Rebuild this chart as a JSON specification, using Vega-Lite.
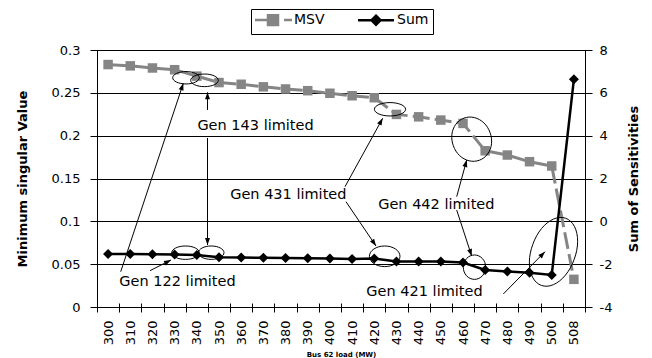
{
  "$schema": "https://vega.github.io/schema/vega-lite/v6.json",
  "width": 488,
  "height": 257,
  "autosize": {"type": "none"},
  "padding": {"left": 97, "top": 50, "right": 67, "bottom": 51},
  "background": "white",
  "config": {
    "view": {"stroke": null},
    "font": "DejaVu Sans",
    "axis": {"labelFont": "DejaVu Sans", "labelFontSize": 13, "labelColor": "#000", "titleFont": "DejaVu Sans", "titleFontSize": 13, "titleFontWeight": "bold", "titleColor": "#000", "domainColor": "#000", "tickColor": "#000", "gridColor": "#000", "domainWidth": 1, "tickWidth": 1, "gridWidth": 1, "gridOpacity": 1},
    "legend": {"strokeColor": "#000", "fillColor": "#fff", "padding": 4, "symbolSize": 16, "symbolStrokeWidth": 2.5, "symbolOpacity": 1, "labelFont": "DejaVu Sans", "labelFontSize": 14, "labelColor": "#000"}
  },
  "datasets": {
    "main": [
      {"load": 300, "msv": 0.283, "sum": -1.53},
      {"load": 310, "msv": 0.2815, "sum": -1.53},
      {"load": 320, "msv": 0.279, "sum": -1.54},
      {"load": 330, "msv": 0.277, "sum": -1.55},
      {"load": 340, "msv": 0.2695, "sum": -1.57},
      {"load": 350, "msv": 0.262, "sum": -1.68},
      {"load": 360, "msv": 0.26, "sum": -1.69},
      {"load": 370, "msv": 0.257, "sum": -1.7},
      {"load": 380, "msv": 0.2545, "sum": -1.71},
      {"load": 390, "msv": 0.2525, "sum": -1.72},
      {"load": 400, "msv": 0.2495, "sum": -1.73},
      {"load": 410, "msv": 0.2466, "sum": -1.76},
      {"load": 420, "msv": 0.2443, "sum": -1.74},
      {"load": 430, "msv": 0.2248, "sum": -1.88},
      {"load": 440, "msv": 0.222, "sum": -1.88},
      {"load": 450, "msv": 0.2182, "sum": -1.88},
      {"load": 460, "msv": 0.2143, "sum": -1.92},
      {"load": 470, "msv": 0.1824, "sum": -2.27},
      {"load": 480, "msv": 0.1774, "sum": -2.34},
      {"load": 490, "msv": 0.1696, "sum": -2.4},
      {"load": 500, "msv": 0.1646, "sum": -2.5},
      {"load": 508, "msv": 0.0323, "sum": 6.64}
    ],
    "ellipses": [
      {"id": "E1", "ax": 4.012, "ay": 0.2676},
      {"id": "E2", "ax": 4.846, "ay": 0.2646},
      {"id": "E3", "ax": 13.209, "ay": 0.2308},
      {"id": "E4", "ax": 16.892, "ay": 0.1959},
      {"id": "E5", "ax": 3.99, "ay": 0.0634},
      {"id": "E6", "ax": 5.148, "ay": 0.0634},
      {"id": "E7", "ax": 12.97, "ay": 0.0592},
      {"id": "E8", "ax": 17.018, "ay": 0.0465},
      {"id": "E9", "ax": 20.58, "ay": 0.0644}
    ],
    "arrows": [
      {"id": "A1", "sx": 1.068, "sy": 0.0412, "tx": 3.891, "ty": 0.2611},
      {"id": "A2", "sx": 4.982, "sy": 0.23, "tx": 4.982, "ty": 0.2506},
      {"id": "A3", "sx": 4.982, "sy": 0.1973, "tx": 4.982, "ty": 0.0724},
      {"id": "A4", "sx": 2.389, "sy": 0.0424, "tx": 3.336, "ty": 0.0549},
      {"id": "A5", "sx": 11.18, "sy": 0.1404, "tx": 12.88, "ty": 0.2203},
      {"id": "A6", "sx": 11.225, "sy": 0.1229, "tx": 12.578, "ty": 0.0712},
      {"id": "A7", "sx": 16.216, "sy": 0.1288, "tx": 16.667, "ty": 0.1716},
      {"id": "A8", "sx": 16.216, "sy": 0.1132, "tx": 16.892, "ty": 0.0595},
      {"id": "A9", "sx": 18.317, "sy": 0.0152, "tx": 20.197, "ty": 0.0646}
    ],
    "labels": [
      {"text": "Gen 143 limited", "ax": 7.146, "ay": 0.2116},
      {"text": "Gen 431 limited", "ax": 8.625, "ay": 0.1307},
      {"text": "Gen 442 limited", "ax": 15.297, "ay": 0.1191},
      {"text": "Gen 122 limited", "ax": 3.629, "ay": 0.0295},
      {"text": "Gen 421 limited", "ax": 14.764, "ay": 0.0179}
    ]
  },
  "data": {"name": "main"},
  "layer": [
    {
      "mark": {"type": "line", "color": "#858585", "strokeWidth": 3, "strokeDash": [17, 5.18], "strokeDashOffset": 19.6},
      "encoding": {
        "x": {"field": "load", "type": "ordinal", "scale": {"type": "point", "padding": 0.5},
          "axis": {"orient": "bottom", "title": "Bus 62 load (MW)", "labelAngle": 270, "labelAlign": "right", "labelBaseline": "middle", "ticks": false, "tickSize": 0, "labelPadding": 13, "domain": true, "grid": false, "titleFontSize": 7, "titleX": 244, "titleY": 47, "titleBaseline": "middle", "titleAlign": "center"}},
        "y": {"field": "msv", "type": "quantitative", "scale": {"domain": [0, 0.3], "nice": false, "zero": false},
          "axis": {"orient": "left", "title": "Minimum singular Value", "values": [0, 0.05, 0.1, 0.15, 0.2, 0.25, 0.3], "format": "~g", "grid": true, "ticks": false, "tickSize": 0, "labelPadding": 17, "domain": true, "titleX": -74.5, "titleY": 128.5, "titleAngle": 270, "titleBaseline": "middle", "titleAlign": "center"}}
      }
    },
    {
      "mark": {"type": "point", "shape": "square", "filled": true, "size": 90, "opacity": 1, "color": "#858585"},
      "encoding": {
        "x": {"field": "load", "type": "ordinal", "scale": {"type": "point", "padding": 0.5}, "axis": null},
        "y": {"field": "msv", "type": "quantitative", "scale": {"domain": [0, 0.3], "nice": false, "zero": false}, "axis": null}
      }
    },
    {
      "mark": {"type": "line", "color": "#000000", "strokeWidth": 2.5},
      "encoding": {
        "x": {"field": "load", "type": "ordinal", "scale": {"type": "point", "padding": 0.5}, "axis": null},
        "y": {"field": "sum", "type": "quantitative", "scale": {"domain": [-4, 8], "nice": false, "zero": false},
          "axis": {"orient": "right", "title": "Sum of Sensitivities", "values": [-4, -2, 0, 2, 4, 6, 8], "labelExpr": "'' + datum.value", "grid": false, "ticks": false, "tickSize": 0, "labelPadding": 14, "domain": true, "titleX": 48.5, "titleY": 128.5, "titleAngle": 270, "titleBaseline": "middle", "titleAlign": "center"}}
      }
    },
    {
      "mark": {"type": "point", "shape": "diamond", "filled": true, "size": 100, "opacity": 1, "color": "#000000"},
      "encoding": {
        "x": {"field": "load", "type": "ordinal", "scale": {"type": "point", "padding": 0.5}, "axis": null},
        "y": {"field": "sum", "type": "quantitative", "scale": {"domain": [-4, 8], "nice": false, "zero": false},
          "axis": {"orient": "right", "values": [-4, -2, 0, 2, 4, 6, 8], "labels": false, "domain": false, "grid": false, "ticks": true, "tickSize": 12, "offset": -5, "title": null}}
      }
    },
    {
      "layer": [
        {
          "data": {"values": []},
          "mark": {"type": "point", "filled": true, "strokeWidth": 2.5, "opacity": 1},
          "encoding": {
            "fill": {"datum": "MSV", "type": "nominal", "scale": {"domain": ["MSV", "Sum"], "range": ["#858585", "#000000"]}, "legend": {"orient": "none", "legendX": 154, "legendY": -41, "direction": "horizontal", "title": null, "labelOffset": 14, "symbolOffset": 11, "columnPadding": 28}},
            "stroke": {"datum": "MSV", "type": "nominal", "scale": {"domain": ["MSV", "Sum"], "range": ["#858585", "#000000"]}, "legend": {"orient": "none", "legendX": 154, "legendY": -41, "direction": "horizontal", "title": null, "labelOffset": 14, "symbolOffset": 11, "columnPadding": 28}},
            "shape": {"datum": "MSV", "type": "nominal", "scale": {"domain": ["MSV", "Sum"], "range": ["M-9,0H-2.5M-2.5,-2.4H2.5V2.4H-2.5ZM5.5,0H9.5", "M-9,0H9M0,-2.25L2.25,0L0,2.25L-2.25,0Z"]}, "legend": {"orient": "none", "legendX": 154, "legendY": -41, "direction": "horizontal", "title": null, "labelOffset": 14, "symbolOffset": 11, "columnPadding": 28}}
          }
        },
        {
          "data": {"values": []},
          "mark": {"type": "point", "filled": true, "strokeWidth": 2.5, "opacity": 1},
          "encoding": {
            "fill": {"datum": "Sum", "type": "nominal", "scale": {"domain": ["MSV", "Sum"], "range": ["#858585", "#000000"]}, "legend": {"orient": "none", "legendX": 154, "legendY": -41, "direction": "horizontal", "title": null, "labelOffset": 14, "symbolOffset": 11, "columnPadding": 28}},
            "stroke": {"datum": "Sum", "type": "nominal", "scale": {"domain": ["MSV", "Sum"], "range": ["#858585", "#000000"]}, "legend": {"orient": "none", "legendX": 154, "legendY": -41, "direction": "horizontal", "title": null, "labelOffset": 14, "symbolOffset": 11, "columnPadding": 28}},
            "shape": {"datum": "Sum", "type": "nominal", "scale": {"domain": ["MSV", "Sum"], "range": ["M-9,0H-2.5M-2.5,-2.4H2.5V2.4H-2.5ZM5.5,0H9.5", "M-9,0H9M0,-2.25L2.25,0L0,2.25L-2.25,0Z"]}, "legend": {"orient": "none", "legendX": 154, "legendY": -41, "direction": "horizontal", "title": null, "labelOffset": 14, "symbolOffset": 11, "columnPadding": 28}}
          }
        }
      ]
    },
    {
      "data": {"name": "ellipses"},
      "mark": {"type": "point", "filled": false, "stroke": "#000000", "strokeWidth": 1, "size": 4, "opacity": 1},
      "encoding": {
        "x": {"field": "ax", "type": "quantitative", "scale": {"domain": [0, 22], "nice": false, "zero": false},
          "axis": {"orient": "bottom", "values": [0, 1, 2, 3, 4, 5, 6, 7, 8, 9, 10, 11, 12, 13, 14, 15, 16, 17, 18, 19, 20, 21, 22], "labels": false, "domain": false, "grid": false, "ticks": true, "tickSize": 9, "offset": -4, "title": null}},
        "y": {"field": "ay", "type": "quantitative", "scale": {"domain": [0, 0.3], "nice": false, "zero": false},
          "axis": {"orient": "left", "values": [0, 0.05, 0.1, 0.15, 0.2, 0.25, 0.3], "labels": false, "domain": false, "grid": false, "ticks": true, "tickSize": 10, "offset": -3, "title": null}},
        "shape": {"field": "id", "type": "nominal", "legend": null, "scale": {
          "domain": ["E1", "E2", "E3", "E4", "E5", "E6", "E7", "E8", "E9"],
          "range": [
            "M-13.3,0A13.3,6.2 0 1,0 13.3,0A13.3,6.2 0 1,0 -13.3,0",
            "M-13.8,0A13.8,6.3 0 1,0 13.8,0A13.8,6.3 0 1,0 -13.8,0",
            "M-15.6,0A15.6,6.7 0 1,0 15.6,0A15.6,6.7 0 1,0 -15.6,0",
            "M-18.32,6.67A19.5,22 -20 1,0 18.32,-6.67A19.5,22 -20 1,0 -18.32,6.67",
            "M-13.8,0A13.8,6.7 0 1,0 13.8,0A13.8,6.7 0 1,0 -13.8,0",
            "M-12.8,0A12.8,6.7 0 1,0 12.8,0A12.8,6.7 0 1,0 -12.8,0",
            "M-15.3,0A15.3,10.3 0 1,0 15.3,0A15.3,10.3 0 1,0 -15.3,0",
            "M-11.2,0A11.2,12.2 0 1,0 11.2,0A11.2,12.2 0 1,0 -11.2,0",
            "M-20.67,-7.52A22,35 20 1,0 20.67,7.52A22,35 20 1,0 -20.67,-7.52"
          ]}}
      }
    },
    {
      "data": {"name": "arrows"},
      "mark": {"type": "rule", "color": "#000000", "strokeWidth": 1},
      "encoding": {
        "x": {"field": "sx", "type": "quantitative", "scale": {"domain": [0, 22], "nice": false, "zero": false}, "axis": null},
        "x2": {"field": "tx"},
        "y": {"field": "sy", "type": "quantitative", "scale": {"domain": [0, 0.3], "nice": false, "zero": false}, "axis": null},
        "y2": {"field": "ty"}
      }
    },
    {
      "data": {"name": "arrows"},
      "mark": {"type": "point", "filled": true, "color": "#000000", "size": 4, "opacity": 1},
      "encoding": {
        "x": {"field": "tx", "type": "quantitative", "scale": {"domain": [0, 22], "nice": false, "zero": false}, "axis": null},
        "y": {"field": "ty", "type": "quantitative", "scale": {"domain": [0, 0.3], "nice": false, "zero": false}, "axis": null},
        "shape": {"field": "id", "type": "nominal", "legend": null, "scale": {
          "domain": ["A1", "A2", "A3", "A4", "A5", "A6", "A7", "A8", "A9"],
          "range": [
            "M0,0L0.17,7.43L-4.58,5.86Z",
            "M0,0L2.5,7L-2.5,7Z",
            "M0,0L2.5,-7L-2.5,-7Z",
            "M0,0L-5.1,5.41L-7.37,0.95Z",
            "M0,0L-1.19,7.34L-5.57,4.92Z",
            "M0,0L-6,-4.39L-1.86,-7.2Z",
            "M0,0L0.57,7.41L-4.25,6.1Z",
            "M0,0L-4.55,-5.88L0.21,-7.43Z",
            "M0,0L-3.13,6.74L-6.69,3.23Z"
          ]}}
      }
    },
    {
      "data": {"name": "labels"},
      "mark": {"type": "text", "font": "DejaVu Sans", "fontSize": 14.5, "color": "#000000", "align": "center", "baseline": "middle"},
      "encoding": {
        "x": {"field": "ax", "type": "quantitative", "scale": {"domain": [0, 22], "nice": false, "zero": false}, "axis": null},
        "y": {"field": "ay", "type": "quantitative", "scale": {"domain": [0, 0.3], "nice": false, "zero": false}, "axis": null},
        "text": {"field": "text"}
      }
    }
  ],
  "resolve": {"scale": {"x": "independent", "y": "independent", "shape": "independent", "fill": "independent", "stroke": "independent"}}
}
